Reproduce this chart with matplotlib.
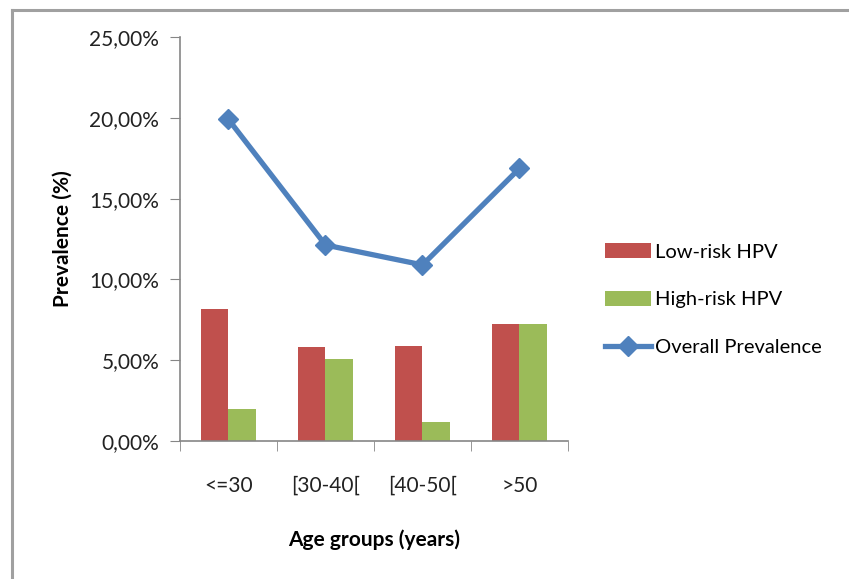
import numpy as np
import matplotlib.pyplot as plt
from matplotlib.lines import Line2D
from matplotlib.ticker import FuncFormatter, FixedLocator

plt.rcParams['font.family'] = ['Lato', 'DejaVu Sans']

groups = ['<=30', '[30-40[', '[40-50[', '>50']
low_risk = [8.15, 5.80, 5.90, 7.24]
high_risk = [1.96, 5.06, 1.19, 7.24]
overall = [19.9, 12.13, 10.9, 16.87]

red = '#C0504D'
green = '#9BBB59'
blue = '#4F81BD'
gray = '#868686'

fig = plt.figure(figsize=(8.49, 5.79), dpi=100)
ax = fig.add_axes([0.212, 0.2383, 0.457, 0.6977])

x = np.arange(len(groups))
w = 0.286
b1 = ax.bar(x - w/2, low_risk, w, color=red, label='Low-risk HPV')
b2 = ax.bar(x + w/2, high_risk, w, color=green, label='High-risk HPV')
ln, = ax.plot(x, overall, color=blue, lw=3.8, marker='D', ms=10, label='Overall Prevalence')

ax.set_xlim(-0.5, 3.5)
ax.set_ylim(0, 25)
ax.set_yticks(np.arange(0, 26, 5))
ax.yaxis.set_major_formatter(FuncFormatter(lambda v, p: ('%.2f%%' % v).replace('.', ',')))
ax.set_xticks(x)
ax.set_xticklabels(groups)
ax.xaxis.set_minor_locator(FixedLocator(np.arange(-0.5, 4, 1)))
ax.tick_params(axis='x', which='major', length=0, pad=25, labelsize=15, labelcolor='#222222')
ax.tick_params(axis='x', which='minor', length=7, color=gray, direction='out')
ax.tick_params(axis='y', length=7, color=gray, direction='out', labelsize=15, labelcolor='#222222', pad=8)

for s in ['top', 'right']:
    ax.spines[s].set_visible(False)
for s in ['left', 'bottom']:
    ax.spines[s].set_color(gray)
    ax.spines[s].set_linewidth(1.2)

ax.set_ylabel('Prevalence (%)', fontsize=15, fontweight='bold', labelpad=12)
ax.set_xlabel('Age groups (years)', fontsize=15, fontweight='bold', labelpad=24)

leg = ax.legend([b1, b2, ln], ['Low-risk HPV', 'High-risk HPV', 'Overall Prevalence'],
                loc='center left', bbox_to_anchor=(1.048, 0.35), frameon=False,
                fontsize=14.5, handlelength=2.3, handleheight=0.75, labelspacing=1.5,
                handletextpad=0.2)

# chart border (top and left edges visible)
fig.add_artist(Line2D([0.0145, 1.0], [0.983, 0.983], color='#A0A0A0', lw=2.2, transform=fig.transFigure))
fig.add_artist(Line2D([0.0145, 0.0145], [0.0, 0.983], color='#A0A0A0', lw=2.2, transform=fig.transFigure))

fig.savefig('out.png', dpi=100)
